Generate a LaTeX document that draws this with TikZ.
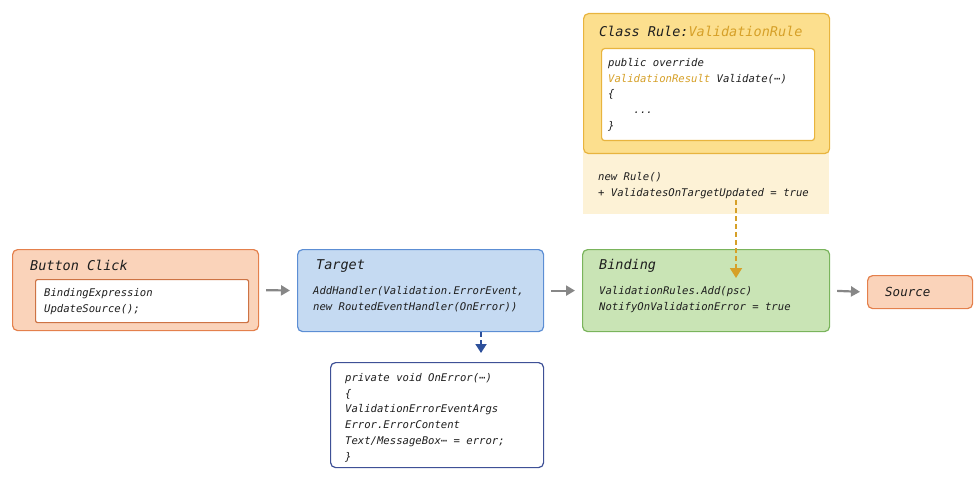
\documentclass[tikz,border=0pt]{standalone}
\usepackage{fontspec}
\setmonofont{DejaVu Sans Mono}
\usepackage{tikz}
\usetikzlibrary{calc,arrows.meta,positioning}
\definecolor{codeInk}{RGB}{30,30,30}
\definecolor{clickFill}{RGB}{250,211,186}
\definecolor{clickLine}{RGB}{228,128,76}
\definecolor{targetFill}{RGB}{197,218,242}
\definecolor{targetLine}{RGB}{92,142,212}
\definecolor{bindFill}{RGB}{201,228,181}
\definecolor{bindLine}{RGB}{122,180,92}
\definecolor{ruleFill}{RGB}{252,223,142}
\definecolor{ruleLine}{RGB}{232,180,62}
\definecolor{ruleGold}{RGB}{214,160,40}
\definecolor{rulePale}{RGB}{253,242,214}
\definecolor{errLine}{RGB}{62,80,150}
\definecolor{errArrow}{RGB}{45,80,155}
\definecolor{flowGray}{RGB}{135,135,135}

\begin{document}
\begin{tikzpicture}[x=1pt,y=-1pt,
  box/.style={draw, line width=1.2pt, rounded corners=5pt, anchor=north west, inner sep=0pt},
  code/.style={font=\ttfamily\itshape\fontsize{10.6}{15.8}\selectfont, text=codeInk, align=left, anchor=north west, inner sep=0pt},
  title/.style={font=\ttfamily\itshape\fontsize{13.5}{16}\selectfont, text=codeInk, anchor=west, inner sep=0pt},
  flow/.style={-{Triangle[length=9pt,width=10pt]}, line width=2.2pt, draw=flowGray, shorten <=7pt, shorten >=7pt}]
\useasboundingbox (0,0) rectangle (978,484);

% left: button click
\node[box, fill=clickFill, draw=clickLine, minimum width=246, minimum height=81] (click) at (12,249) {};
\node[box, fill=white, draw=clickLine!90!black, minimum width=213, minimum height=43, rounded corners=2pt] (clickcode) at (35,279) {};
\node[title] (clicktitle) at (30,265) {Button Click};
\node[code] (clicktext) at (44,288) {BindingExpression\\UpdateSource();};

% target + error handler
\node[box, fill=targetFill, draw=targetLine, minimum width=246, minimum height=82] (target) at (297,249) {};
\node[title] (targettitle) at (316,266) {Target};
\node[code] (targettext) at (313,286) {AddHandler(Validation.ErrorEvent,\\new RoutedEventHandler(OnError))};
\node[box, fill=white, draw=errLine, minimum width=213, minimum height=105] (err) at (330,362) {};
\node[code] (errtext) at (345,373) {private void OnError(⋯)\\\{\\ValidationErrorEventArgs\\Error.ErrorContent\\Text/MessageBox⋯ = error;\\\}};

% binding + source
\node[box, fill=bindFill, draw=bindLine, minimum width=247, minimum height=82] (bind) at (582,249) {};
\node[title] (bindtitle) at (599,266) {Binding};
\node[code] (bindtext) at (599,286) {ValidationRules.Add(psc)\\NotifyOnValidationError = true};
\node[box, fill=clickFill, draw=clickLine, minimum width=105, minimum height=33] (source) at (867,275) {};
\node[title, font=\ttfamily\itshape\fontsize{12.5}{15}\selectfont] (sourcetext) at (885,292) {Source};

% top: validation rule
\fill[rulePale] (583,150) rectangle (829,214);
\node[box, fill=ruleFill, draw=ruleLine, minimum width=246, minimum height=140] (rule) at (583,13) {};
\node[title] (ruletitle) at (599,31) {Class Rule:\textcolor{ruleGold}{ValidationRule}};
\node[box, fill=white, draw=ruleLine, minimum width=213, minimum height=92, rounded corners=3pt] (rulecode) at (601,48) {};
\node[code] (ruletext) at (608,58) {public override\\\textcolor{ruleGold}{ValidationResult} Validate(⋯)\\\{\\\ \ \ \ ...\\\}};
\node[code] (newrule) at (598,172) {new Rule()\\+ ValidatesOnTargetUpdated = true};

% connectors
\draw[flow] (click.east) -- (target.west);
\draw[flow] (target.east) -- (bind.west);
\draw[flow] (bind.east) -- (source.west);
\coordinate (errtap) at (481,0);
\draw[errArrow, line width=1.8pt, dash pattern=on 5pt off 3pt, -{Triangle[length=9pt,width=11pt]}, shorten >=9pt]
  (target.south -| errtap) -- (err.north -| errtap);
\coordinate (ruletap) at (736,200);
\coordinate (bindtap) at (736,278);
\draw[ruleGold, line width=1.8pt, dash pattern=on 5pt off 3pt, -{Triangle[length=10pt,width=12pt]}] (ruletap) -- (bindtap);
\end{tikzpicture}
\end{document}
